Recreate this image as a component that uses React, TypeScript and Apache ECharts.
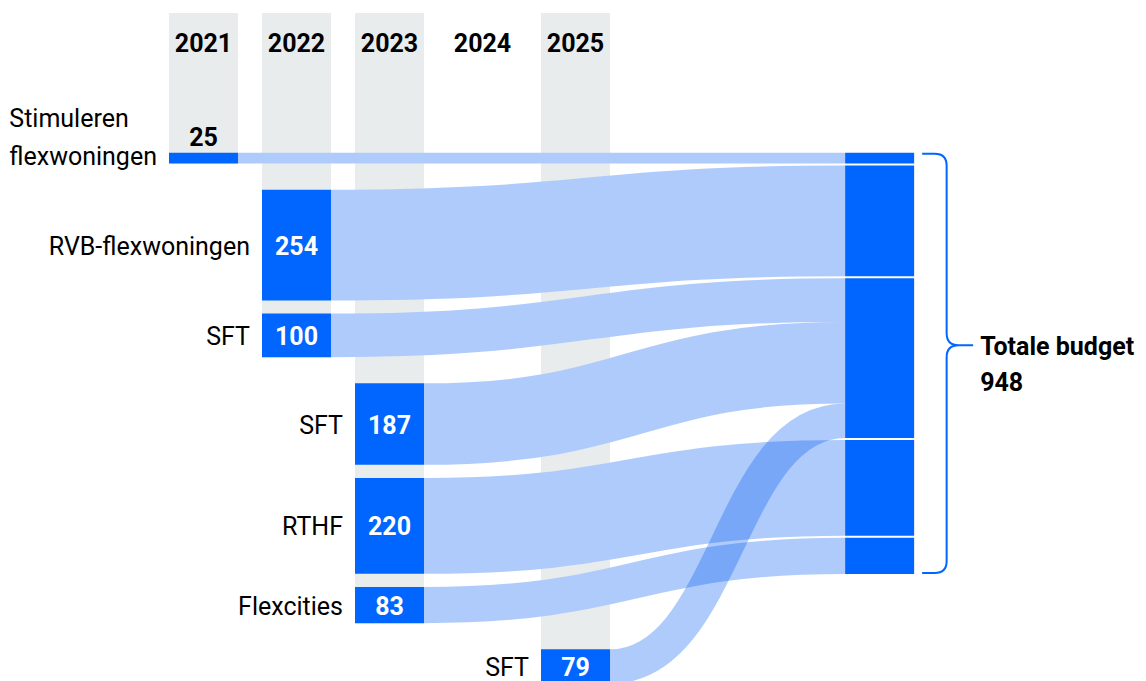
import React, { useEffect, useRef } from "react";
import * as echarts from "echarts";

// ---------- data ----------
const years = ["2021", "2022", "2023", "2024", "2025"];
const programNames = ["Stimuleren\nflexwoningen", "RVB-flexwoningen", "SFT", "SFT", "RTHF", "Flexcities", "SFT"];
const programYears = ["2021", "2022", "2022", "2023", "2023", "2023", "2025"];
const programBudgets = [25, 254, 100, 187, 220, 83, 79];
const programGroups = ["Stimuleren flexwoningen", "RVB-flexwoningen", "SFT", "SFT", "RTHF", "Flexcities", "SFT"];
const budgetGroupOrder = ["Stimuleren flexwoningen", "RVB-flexwoningen", "SFT", "RTHF", "Flexcities"];
const totalTitle = "Totale budget";

// ---------- layout constants (axis units) ----------
const NODE_W = 0.742; // column width in column units
const TARGET_COL = 7.27;
const GAP_SAME = 30;
const GAP_COL = 60;
const GROUP_SEP = 4.6;
const X_MIN = -2.188;
const X_MAX = 10.134;
const Y_MIN = -350.2;
const Y_MAX = 1211.7;
const COL_TOP = -320.4;
const YEAR_LABEL_Y = -251.6;

// ---------- styles ----------
const NODE_BLUE = "#0066ff";
const GREY = "#e9eced";
const LINK_COLOR = "rgba(5,93,243,0.32)";
const FONT = "Roboto";
const FS = 25;
const TXT = "#000";
const DY = 1; // text baseline nudge in px

// ---------- derived layout ----------
const colOf = programYears.map((y) => years.indexOf(y));
const srcTop: number[] = [];
programBudgets.forEach((v, i) => {
  if (i === 0) srcTop.push(0);
  else
    srcTop.push(
      srcTop[i - 1] + programBudgets[i - 1] + (programYears[i] === programYears[i - 1] ? GAP_SAME : GAP_COL)
    );
});
const tgtTop: number[] = new Array(programBudgets.length).fill(0);
const groupSpans: { start: number; end: number }[] = [];
let cursor = 0;
budgetGroupOrder.forEach((g) => {
  const start = cursor;
  programGroups.forEach((pg, i) => {
    if (pg === g) {
      tgtTop[i] = cursor;
      cursor += programBudgets[i];
    }
  });
  groupSpans.push({ start, end: cursor });
  cursor += GROUP_SEP;
});
const targetTop = 0;
const targetBottom = cursor - GROUP_SEP;
const total = programBudgets.reduce((a, b) => a + b, 0);
const activeCols = years.map((_, i) => i).filter((i) => colOf.includes(i));
const colBottom = activeCols.map((c) => {
  let b = 0;
  programBudgets.forEach((v, i) => {
    if (colOf[i] === c) b = Math.max(b, srcTop[i] + v);
  });
  return b;
});

function linkGeom(api: any, i: number) {
  const c = colOf[i];
  const v = programBudgets[i];
  const a = api.coord([c + NODE_W / 2, srcTop[i] + v / 2]);
  const b = api.coord([TARGET_COL - NODE_W / 2, tgtTop[i] + v / 2]);
  const w = Math.abs(api.coord([0, v])[1] - api.coord([0, 0])[1]);
  const xm = (a[0] + b[0]) / 2;
  return {
    shape: { x1: a[0], y1: a[1], cpx1: xm, cpy1: a[1], cpx2: xm, cpy2: b[1], x2: b[0], y2: b[1] },
    w,
  };
}

export default function App() {
  const ref = useRef<HTMLDivElement>(null);
  useEffect(() => {
    if (!ref.current) return;
    const chart = echarts.init(ref.current, null, { renderer: "svg" });
    const option: any = {
      animation: false,
      grid: { left: 0, right: 0, top: 0, bottom: 0 },
      xAxis: { type: "value", min: X_MIN, max: X_MAX, show: false },
      yAxis: { type: "value", min: Y_MIN, max: Y_MAX, inverse: true, show: false },
      series: [
        {
          type: "custom",
          z: 1,
          silent: true,
          data: activeCols.map((c) => [c, 0]),
          renderItem: (params: any, api: any) => {
            const c = activeCols[params.dataIndex];
            const p0 = api.coord([c - NODE_W / 2, COL_TOP]);
            const p1 = api.coord([c + NODE_W / 2, colBottom[params.dataIndex]]);
            return {
              type: "rect",
              shape: { x: p0[0], y: p0[1], width: p1[0] - p0[0], height: p1[1] - p0[1] },
              style: { fill: GREY },
            };
          },
        },
        {
          type: "custom",
          z: 2,
          silent: true,
          data: years.map((_, i) => [i, 0]),
          renderItem: (params: any, api: any) => {
            const i = params.dataIndex;
            const p = api.coord([i, YEAR_LABEL_Y]);
            return {
              type: "text",
              style: {
                text: years[i],
                x: p[0],
                y: p[1] + DY,
                align: "center",
                verticalAlign: "middle",
                fill: TXT,
                font: `bold ${FS}px ${FONT}`,
              },
            };
          },
        },
        {
          type: "custom",
          z: 3,
          silent: true,
          data: programBudgets.map((v, i) => [i, v]),
          renderItem: (params: any, api: any) => {
            const g = linkGeom(api, params.dataIndex);
            return {
              type: "bezierCurve",
              shape: g.shape,
              style: { stroke: "#ffffff", lineWidth: g.w, fill: "none" },
            };
          },
        },
        {
          type: "custom",
          z: 4,
          silent: true,
          data: programBudgets.map((v, i) => [i, v]),
          renderItem: (params: any, api: any) => {
            const g = linkGeom(api, params.dataIndex);
            return {
              type: "bezierCurve",
              shape: g.shape,
              style: { stroke: LINK_COLOR, lineWidth: g.w, fill: "none" },
            };
          },
        },
        {
          type: "custom",
          z: 5,
          silent: true,
          data: groupSpans.map((s, i) => [i, s.end - s.start]),
          renderItem: (params: any, api: any) => {
            const s = groupSpans[params.dataIndex];
            const p0 = api.coord([TARGET_COL - NODE_W / 2, s.start]);
            const p1 = api.coord([TARGET_COL + NODE_W / 2, s.end]);
            return {
              type: "rect",
              shape: { x: p0[0], y: p0[1], width: p1[0] - p0[0], height: p1[1] - p0[1] },
              style: { fill: NODE_BLUE },
            };
          },
        },
        {
          type: "custom",
          z: 6,
          silent: true,
          data: programBudgets.map((v, i) => [i, v]),
          renderItem: (params: any, api: any) => {
            const i = params.dataIndex;
            const c = colOf[i];
            const v = programBudgets[i];
            const p0 = api.coord([c - NODE_W / 2, srcTop[i]]);
            const p1 = api.coord([c + NODE_W / 2, srcTop[i] + v]);
            const x = p0[0];
            const y = p0[1];
            const w = p1[0] - p0[0];
            const h = p1[1] - p0[1];
            const cy = y + h / 2 + DY;
            const children: any[] = [
              { type: "rect", shape: { x, y, width: w, height: h }, style: { fill: NODE_BLUE } },
            ];
            if (h >= 30) {
              children.push({
                type: "text",
                style: {
                  text: String(v),
                  x: x + w / 2,
                  y: cy,
                  align: "center",
                  verticalAlign: "middle",
                  fill: "#ffffff",
                  font: `bold ${FS}px ${FONT}`,
                },
              });
            } else {
              children.push({
                type: "text",
                style: {
                  text: String(v),
                  x: x + w / 2,
                  y: y - 16 + DY,
                  align: "center",
                  verticalAlign: "middle",
                  fill: TXT,
                  font: `bold ${FS}px ${FONT}`,
                },
              });
            }
            const name = programNames[i];
            if (name.indexOf("\n") >= 0) {
              const LH = 37.5;
              children.push({
                type: "text",
                style: {
                  text: name
                    .split("\n")
                    .map((l) => `{l|${l}}`)
                    .join("\n"),
                  x: x - 12,
                  y: cy + LH / 2 - 3,
                  align: "right",
                  verticalAlign: "bottom",
                  font: `${FS}px ${FONT}`,
                  fill: TXT,
                  rich: {
                    l: { align: "left", font: `${FS}px ${FONT}`, fill: TXT, lineHeight: LH },
                  },
                },
              });
            } else {
              children.push({
                type: "text",
                style: {
                  text: name,
                  x: x - 12,
                  y: cy,
                  align: "right",
                  verticalAlign: "middle",
                  font: `${FS}px ${FONT}`,
                  fill: TXT,
                },
              });
            }
            return { type: "group", children };
          },
        },
        {
          type: "custom",
          z: 7,
          silent: true,
          data: [[TARGET_COL, total]],
          renderItem: (params: any, api: any) => {
            const top = api.coord([TARGET_COL + NODE_W / 2, targetTop]);
            const bot = api.coord([TARGET_COL + NODE_W / 2, targetBottom]);
            const LH = 36;
            const mid = (top[1] + bot[1]) / 2;
            const tipY = mid - LH / 2;
            const x0 = top[0] + 8;
            const xv = x0 + 24.5;
            const xt = xv + 26.5;
            const r = 12;
            const yt = top[1] + 1;
            const yb = bot[1] - 1;
            const d =
              `M${x0},${yt} L${xv - r},${yt} Q${xv},${yt} ${xv},${yt + r} L${xv},${tipY - r} ` +
              `Q${xv},${tipY} ${xv + r},${tipY} L${xt},${tipY} M${xv + r},${tipY} ` +
              `Q${xv},${tipY} ${xv},${tipY + r} L${xv},${yb - r} Q${xv},${yb} ${xv - r},${yb} L${x0},${yb}`;
            return {
              type: "group",
              children: [
                {
                  type: "path",
                  shape: { pathData: d },
                  style: { stroke: NODE_BLUE, lineWidth: 2, fill: "none" },
                },
                {
                  type: "text",
                  style: {
                    text: `${totalTitle}\n${total}`,
                    x: top[0] + 66,
                    y: mid + DY,
                    align: "left",
                    verticalAlign: "middle",
                    lineHeight: LH,
                    fill: TXT,
                    font: `bold ${FS}px ${FONT}`,
                  },
                },
              ],
            };
          },
        },
      ],
    };
    chart.setOption(option);
    return () => chart.dispose();
  }, []);
  return (
    <div
      ref={ref}
      style={{ position: "absolute", left: 0, top: 0, width: 1146, height: 681, background: "#fff" }}
    />
  );
}
